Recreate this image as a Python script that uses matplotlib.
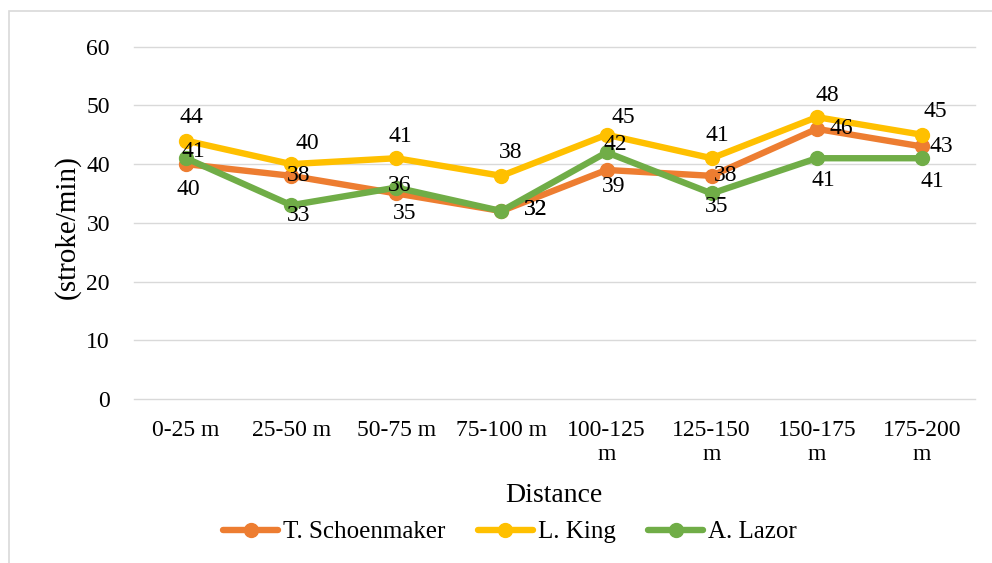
import matplotlib
matplotlib.use("Agg")
import matplotlib.pyplot as plt
from matplotlib.patches import Rectangle

plt.rcParams["font.family"] = ["Liberation Serif", "DejaVu Serif"]

# Данные: темп гребков по отрезкам дистанции
distances = ["0-25 m", "25-50 m", "50-75 m", "75-100 m",
             "100-125\nm", "125-150\nm", "150-175\nm", "175-200\nm"]
schoenmaker = [40, 38, 35, 32, 39, 38, 46, 43]
king = [44, 40, 41, 38, 45, 41, 48, 45]
lazor = [41, 33, 36, 32, 42, 35, 41, 41]

# Смещения подписей значений (пиксели, вправо / вверх), как в исходной диаграмме
off_schoenmaker = [(2, -25), (7, 0), (8, -20), (34, 2), (7, -17), (14, 0), (25, 0), (19, 0)]
off_king = [(5, 23), (16, 21), (4, 22), (9, 23), (17, 17), (6, 23), (11, 22), (13, 23)]
off_lazor = [(7, 7), (7, -10), (3, 2), (34, 2), (9, 8), (5, -13), (7, -22), (10, -23)]

series = [
    ("T. Schoenmaker", schoenmaker, "#ED7D31", off_schoenmaker),
    ("L. King", king, "#FFC000", off_king),
    ("A. Lazor", lazor, "#70AD47", off_lazor),
]

fig = plt.figure(figsize=(9.92, 5.63), dpi=100)
ax = fig.add_axes([133.5 / 992, 1 - 398.9 / 563, 841 / 992, 352.2 / 563])

xs = list(range(len(distances)))
for name, vals, color, offs in series:
    ax.plot(xs, vals, color=color, linewidth=4.6, marker="o", markersize=10,
            label=name, solid_capstyle="round", solid_joinstyle="round")
    for x, v, (dx, dy) in zip(xs, vals, offs):
        ax.annotate(str(v), (x, v), xytext=(dx, dy), textcoords="offset pixels",
                    ha="center", va="center", fontsize=17, color="black")

ax.set_xlim(-0.5, len(distances) - 0.5)
ax.set_ylim(0, 60)
ax.set_yticks(range(0, 61, 10))
ax.set_xticks(xs)
ax.set_xticklabels(distances, fontsize=17, linespacing=1.2)
ax.tick_params(axis="y", length=0, pad=17, labelsize=17)
ax.tick_params(axis="x", length=0, pad=15)
for s in ax.spines.values():
    s.set_visible(False)
ax.grid(axis="y", color="#D9D9D9", linewidth=1.0)
for gl in ax.get_ygridlines():
    gl.set_clip_on(False)
ax.set_axisbelow(True)

ax.set_ylabel("(stroke/min)", fontsize=21, va="center")
ax.yaxis.set_label_coords(-0.079, 0.487)
ax.set_xlabel("Distance", fontsize=20, va="center")
ax.xaxis.set_label_coords(0.5, -0.275)

fig.legend(loc="center", bbox_to_anchor=(510 / 992, 1 - 532 / 563), ncol=3,
           frameon=False, fontsize=18, handlelength=2.2, handletextpad=0.2,
           columnspacing=1.3)

# светло-серая рамка области диаграммы
fig.patches.append(Rectangle((8.5 / 992, -0.1), 2, 1.1 - 10.5 / 563,
                             transform=fig.transFigure, fill=False,
                             edgecolor="#D9D9D9", linewidth=1.2))

fig.savefig("out.png", dpi=100)
